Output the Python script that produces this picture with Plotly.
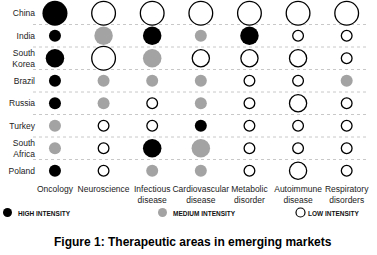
import plotly.graph_objects as go

countries = ["China", "India", "South<br>Korea", "Brazil", "Russia", "Turkey", "South<br>Africa", "Poland"]
areas = ["Oncology", "Neuroscience", "Infectious<br>disease", "Cardiovascular<br>disease",
         "Metabolic<br>disorder", "Autoimmune<br>disease", "Respiratory<br>disorders"]

# intensity: H = high, M = medium, L = low
intensity = [
    ["H", "L", "L", "L", "L", "L", "L"],  # China
    ["H", "M", "H", "M", "H", "L", "L"],  # India
    ["H", "L", "M", "L", "L", "L", "L"],  # South Korea
    ["H", "M", "M", "M", "L", "L", "M"],  # Brazil
    ["H", "M", "L", "M", "L", "L", "L"],  # Russia
    ["M", "L", "L", "H", "L", "L", "L"],  # Turkey
    ["M", "L", "H", "M", "L", "L", "L"],  # South Africa
    ["H", "L", "M", "M", "L", "L", "L"],  # Poland
]
# bubble size level: 1 small, 2 medium, 3 large
size_level = [
    [3, 3, 3, 3, 3, 3, 3],
    [1, 2, 2, 1, 2, 1, 1],
    [2, 3, 2, 2, 2, 2, 1],
    [1, 1, 1, 1, 1, 1, 1],
    [1, 1, 1, 1, 1, 2, 1],
    [1, 1, 1, 1, 1, 1, 1],
    [1, 1, 2, 2, 1, 1, 1],
    [1, 1, 1, 1, 1, 2, 1],
]
legend_labels = {"H": "HIGH INTENSITY", "M": "MEDIUM INTENSITY", "L": "LOW INTENSITY"}
title_text = "Figure 1: Therapeutic areas in emerging markets"

W, H = 377, 255
ML, MR, MT, MB = 36, 6, 2, 73
PW, PH = W - ML - MR, H - MT - MB

def px_x(px):
    return (px - ML) / PW

def px_y(py):
    return 1 - (py - MT) / PH

diam = {1: 12, 2: 18.5, 3: 25}
styles = {
    "H": dict(color="black", line=dict(width=0, color="black")),
    "M": dict(color="#a3a3a3", line=dict(width=0, color="#a3a3a3")),
    "L": dict(color="white", line=dict(width=1.3, color="black")),
}

fig = go.Figure()
for code in ["H", "M", "L"]:
    xs, ys, ss = [], [], []
    for r, c_name in enumerate(countries):
        for c, a_name in enumerate(areas):
            if intensity[r][c] == code:
                xs.append(a_name)
                ys.append(c_name)
                d = diam[size_level[r][c]]
                ss.append(d - 1.3 if code == "L" else d)
    fig.add_trace(go.Scatter(
        x=xs, y=ys, mode="markers", name=legend_labels[code],
        marker=dict(size=ss, color=styles[code]["color"], line=styles[code]["line"], opacity=1),
        hoverinfo="x+y", showlegend=False, cliponaxis=False,
    ))

# dotted row separators
shapes = []
for i in range(len(countries) - 1):
    shapes.append(dict(type="line", xref="paper", x0=px_x(33), x1=px_x(368), yref="y",
                       y0=i + 0.5, y1=i + 0.5, layer="below",
                       line=dict(color="#c8c8c8", width=1, dash="dot")))

# legend (custom)
leg_pos = [("H", 7.5, 16), ("M", 162.5, 171), ("L", 300.5, 306)]
annotations = []
for code, cx, tx in leg_pos:
    st = styles[code]
    shapes.append(dict(type="circle", xref="paper", yref="paper", xsizemode="pixel", ysizemode="pixel",
                       xanchor=px_x(cx), yanchor=px_y(212.5), x0=-4.5, x1=4.5, y0=-4.5, y1=4.5,
                       fillcolor=st["color"],
                       line=dict(color="black" if code == "L" else st["color"], width=1.2 if code == "L" else 0)))
    annotations.append(dict(text="<b>" + legend_labels[code] + "</b>", xref="paper", yref="paper",
                            x=px_x(tx), y=px_y(213), xanchor="left", yanchor="middle", showarrow=False,
                            font=dict(size=6.5, color="#111111", family="Arial, Liberation Sans")))

annotations.append(dict(text="<b>" + title_text + "</b>", xref="paper", yref="paper",
                        x=px_x(193), y=px_y(241.5), xanchor="center", yanchor="middle", showarrow=False,
                        font=dict(size=12, color="black", family="Arial, Liberation Sans")))

fig.update_layout(
    width=W, height=H, margin=dict(l=ML, r=MR, t=MT, b=MB),
    paper_bgcolor="white", plot_bgcolor="white",
    font=dict(family="Arial, Liberation Sans", size=9, color="#222222"),
    shapes=shapes, annotations=annotations, showlegend=False,
    xaxis=dict(type="category", categoryorder="array", categoryarray=areas,
               range=[-0.39, 6.5], showgrid=False, zeroline=False, showline=False,
               ticks="", tickangle=0, tickfont=dict(size=8.5)),
    yaxis=dict(type="category", categoryorder="array", categoryarray=countries,
               range=[7.5, -0.5], showgrid=False, zeroline=False, showline=False,
               ticks="", tickfont=dict(size=8.5)),
)

fig.write_html("out.html")
